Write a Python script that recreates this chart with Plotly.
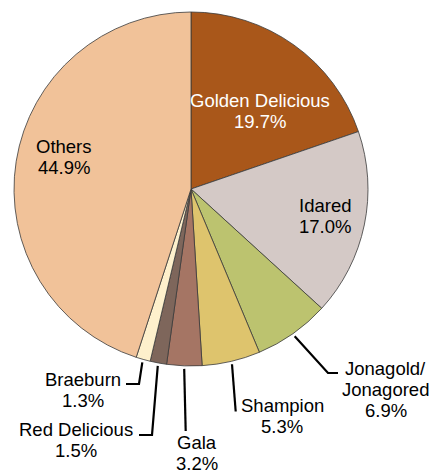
import math
import plotly.graph_objects as go

labels = ["Golden Delicious", "Idared", "Jonagold/ Jonagored", "Shampion", "Gala",
          "Red Delicious", "Braeburn", "Others"]
values = [19.7, 17.0, 6.9, 5.3, 3.2, 1.5, 1.3, 44.9]
colors = ["#A9571A", "#D4C9C6", "#BCC36F", "#DEC46D", "#A57564", "#7E665B", "#FEF0CC", "#F1C299"]
label_lines = [["Golden Delicious"], ["Idared"], ["Jonagold/", "Jonagored"], ["Shampion"],
               ["Gala"], ["Red Delicious"], ["Braeburn"], ["Others"]]

W, H = 431, 471
CX, CY, R = 191, 189, 177  # pie centre / radius in pixels
LINE_GAP = 21

fig = go.Figure(go.Pie(
    labels=labels, values=values, sort=False, direction="clockwise", rotation=0,
    marker=dict(colors=colors, line=dict(color="#3a3a3a", width=0.8)),
    textinfo="none", hoverinfo="label+percent", showlegend=False,
    domain=dict(x=[(CX - R) / W, (CX + R) / W], y=[1 - (CY + R) / H, 1 - (CY - R) / H]),
))

total = sum(values)
mids = []
acc = 0
for v in values:
    mids.append((acc + v / 2) / total * 2 * math.pi)
    acc += v

def pt(ang, r):
    return CX + r * math.sin(ang), CY - r * math.cos(ang)

font = dict(family="Liberation Sans, Arial, sans-serif", size=18.5, color="black")
annotations = []
shapes = []

def add_label(i, x, y_first, color="black"):
    lines = label_lines[i] + [f"{values[i]:.1f}%"]
    for k, t in enumerate(lines):
        y = y_first + k * LINE_GAP
        annotations.append(dict(x=x / W, y=1 - y / H, xref="paper", yref="paper",
                                xanchor="center", yanchor="middle", showarrow=False,
                                text=t, font=dict(font, color=color)))

# inside labels: index -> (centre x, first line y, colour)
inside = {0: (259.5, 100.5, "white"), 1: (325, 205, "black"), 7: (64, 146.5, "black")}
for i, (x, y, c) in inside.items():
    add_label(i, x, y, c)

# outside labels: index -> (elbow x, elbow y, end x, label x, first line y)
outside = {
    6: (139, 384, 126, 83, 379),
    5: (152, 435, 139, 76, 429.5),
    4: (185.7, 431, None, 197, 442),
    3: (235.7, 411.5, None, 282, 405),
    2: (328, 373, 338, 385.5, 368.5),
}
for i, (bx, by, ex, lx, ly) in outside.items():
    sx, sy = pt(mids[i], R + 3)
    path = f"M {sx/W},{1-sy/H} L {bx/W},{1-by/H}"
    if ex is not None:
        path += f" L {ex/W},{1-by/H}"
    shapes.append(dict(type="path", xref="paper", yref="paper", path=path,
                       line=dict(color="black", width=2.2)))
    add_label(i, lx, ly)

fig.update_layout(width=W, height=H, margin=dict(l=0, r=0, t=0, b=0),
                  paper_bgcolor="white", plot_bgcolor="white",
                  annotations=annotations, shapes=shapes)
fig.write_html("out.html", config={"displayModeBar": False},
               post_script="document.body.style.margin='0';")
